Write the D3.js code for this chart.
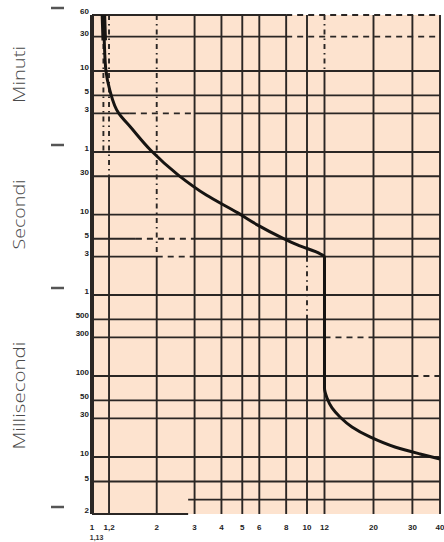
<!DOCTYPE html>
<html><head><meta charset="utf-8">
<script src="https://cdn.jsdelivr.net/npm/d3@7"></script>
<style>html,body{margin:0;padding:0;background:#fff;} svg{display:block}</style>
</head><body><svg id="c" width="444" height="542"></svg>
<script>
// ---- data ----
// trip curve: current (x In) and time (s)
const curveCurrent = [1.13, 1.14, 1.16, 1.21, 1.33, 1.51, 1.87, 2.52, 3.40, 4.77, 5.90, 7.70, 9.03, 11.5, 12, 12, 12.32, 12.98, 14.1, 15.98, 19.28, 25.0, 32.5, 40];
const curveTime    = [3600, 1600, 620, 349, 181, 122, 63.5, 31, 17.5, 10.5, 7.4, 5.1, 4.19, 3.24, 2.97, 0.0711, 0.0535, 0.0403, 0.0312, 0.0235, 0.0177, 0.0133, 0.0109, 0.00945];

// x tick labels
const currentTicks  = [1, 1.2, 2, 3, 4, 5, 6, 8, 10, 12, 20, 30, 40];
const currentLabels = ["1", "1,2", "2", "3", "4", "5", "6", "8", "10", "12", "20", "30", "40"];

// y tick labels (time in seconds)
const timeTicks  = [3600, 1800, 600, 300, 180, 60, 30, 10, 5, 3, 1, 0.5, 0.3, 0.1, 0.05, 0.03, 0.01, 0.005, 0.002];
const timeLabels = ["60", "30", "10", "5", "3", "1", "30", "10", "5", "3", "1", "500", "300", "100", "50", "30", "10", "5", "2"];

// unit sections
const sectionNames = ["Minuti", "Secondi", "Millisecondi"];
const sectionFrom  = [3600, 60, 1];
const sectionTo    = [60, 1, 0.002];

// vertical grid segments: [current, timeFrom, timeTo, style]
const vGrid = [
  [1, 3600, 0.002, "border"],
  [1.13, 3600, 60, "dash"],
  [1.2, 3600, 30, "dash"], [1.2, 30, 0.002, "solid"],
  [2, 3600, 3, "dash"], [2, 3, 0.002, "solid"],
  [3, 3600, 0.002, "solid"],
  [4, 3600, 0.002, "solid"],
  [5, 3600, 0.002, "solid"],
  [6, 3600, 0.002, "solid"],
  [8, 3600, 0.002, "solid"],
  [10, 3600, 3, "solid"], [10, 3, 0.5, "dash"], [10, 0.5, 0.002, "solid"],
  [12, 3600, 600, "dash"], [12, 600, 0.002, "solid"],
  [20, 3600, 0.002, "solid"],
  [30, 3600, 0.002, "solid"],
  [40, 3600, 0.002, "solid"]
];
// horizontal grid segments: [time, currentFrom, currentTo, style]
const hGrid = [
  [3600, 1, 8, "solid"], [3600, 8, 40, "dash"],
  [1800, 1, 8, "solid"], [1800, 8, 40, "dash"],
  [600, 1, 40, "solid"],
  [300, 1, 40, "solid"],
  [180, 1, 1.5, "solid"], [180, 1.5, 3, "dash"], [180, 3, 40, "solid"],
  [60, 1, 40, "solid"],
  [30, 1, 40, "solid"],
  [10, 1, 40, "solid"],
  [5, 1, 1.6, "solid"], [5, 1.6, 3, "dash"], [5, 3, 40, "solid"],
  [3, 1, 2, "solid"], [3, 2, 3, "dash"], [3, 3, 40, "solid"],
  [1, 1, 40, "solid"],
  [0.5, 1, 40, "solid"],
  [0.3, 1, 12, "solid"], [0.3, 12, 20, "dash"], [0.3, 20, 40, "solid"],
  [0.1, 1, 30, "solid"], [0.1, 30, 40, "dash"],
  [0.05, 1, 40, "solid"],
  [0.03, 1, 40, "solid"],
  [0.01, 1, 40, "solid"],
  [0.005, 1, 40, "solid"],
  [0.003, 2.8, 40, "solid"],
  [0.002, 1, 2.8, "solid"]
];

// ---- scales ----
const x = d3.scaleLog().domain([1, 10, 40]).range([92, 307, 440]);
const y = d3.scaleLog().domain([3600, 600, 60, 1, 0.01, 0.002]).range([15, 71, 152, 295, 457, 514]);

const svg = d3.select("#c");
const gridColor = "#2a2624";

// background
svg.append("rect")
  .attr("x", x(1)).attr("y", y(3600))
  .attr("width", x(40) - x(1)).attr("height", y(0.002) - y(3600))
  .attr("fill", "#fde3cf");

// grid
const g = svg.append("g");
g.selectAll("line.v").data(vGrid).join("line")
  .attr("x1", d => x(d[0])).attr("x2", d => x(d[0]))
  .attr("y1", d => y(d[1])).attr("y2", d => y(d[2]))
  .attr("stroke", gridColor)
  .attr("stroke-width", d => d[3] === "border" ? 4 : 1.9)
  .attr("stroke-dasharray", d => d[3] === "dash" ? "5,4,1.5,4" : null);
g.selectAll("line.h").data(hGrid).join("line")
  .attr("x1", d => x(d[1])).attr("x2", d => x(d[2]))
  .attr("y1", d => y(d[0])).attr("y2", d => y(d[0]))
  .attr("stroke", gridColor)
  .attr("stroke-width", 1.9)
  .attr("stroke-dasharray", d => d[3] === "dash" ? "6,5" : null);

// curve
const pts = curveCurrent.map((c, i) => [c, curveTime[i]]);
const line = d3.line().x(d => x(d[0])).y(d => y(d[1])).curve(d3.curveMonotoneY);
svg.append("path").datum(pts).attr("d", line)
  .attr("fill", "none").attr("stroke", "#161412").attr("stroke-width", 3)
  .attr("stroke-linejoin", "round");
svg.append("path").datum(pts.filter(d => d[1] >= 1000)).attr("d", line)
  .attr("fill", "none").attr("stroke", "#161412").attr("stroke-width", 5.5);

// y tick labels
svg.selectAll("text.yl").data(timeTicks).join("text")
  .attr("x", 89).attr("y", d => y(d) - 3)
  .attr("text-anchor", "end").attr("dominant-baseline", "middle")
  .attr("font-family", "Liberation Sans, Arial, sans-serif")
  .attr("font-size", 8).attr("font-weight", "bold").attr("fill", "#222")
  .text((d, i) => timeLabels[i]);

// x tick labels
svg.selectAll("text.xl").data(currentTicks).join("text")
  .attr("x", d => x(d)).attr("y", 530)
  .attr("text-anchor", "middle")
  .attr("font-family", "Liberation Sans, Arial, sans-serif")
  .attr("font-size", 8).attr("font-weight", "bold").attr("fill", "#222")
  .text((d, i) => currentLabels[i]);
svg.append("text").attr("x", x(1.05)).attr("y", 540).attr("text-anchor", "middle")
  .attr("font-family", "Liberation Sans, Arial, sans-serif")
  .attr("font-size", 7).attr("font-weight", "bold").attr("fill", "#333").text("1,13");

// section separators and names
const sepTimes = [3600, 60, 1, 0.002];
svg.selectAll("line.sep").data(sepTimes).join("line")
  .attr("x1", 51).attr("x2", 64)
  .attr("y1", d => y(d) - 7).attr("y2", d => y(d) - 7)
  .attr("stroke", "#555").attr("stroke-width", 2.5);
const nameLen = [57, 70, 108];
svg.selectAll("text.sec").data(sectionNames).join("text")
  .attr("transform", (d, i) => `translate(19,${(y(sectionFrom[i]) + y(sectionTo[i])) / 2 - 9}) rotate(-90)`)
  .attr("text-anchor", "middle").attr("dominant-baseline", "central")
  .attr("font-family", "Open Sans, Lato, sans-serif")
  .attr("font-weight", 300).attr("font-size", 16).attr("fill", "#4a4a4a")
  .attr("textLength", (d, i) => nameLen[i]).attr("lengthAdjust", "spacingAndGlyphs")
  .text(d => d);
</script></body></html>
